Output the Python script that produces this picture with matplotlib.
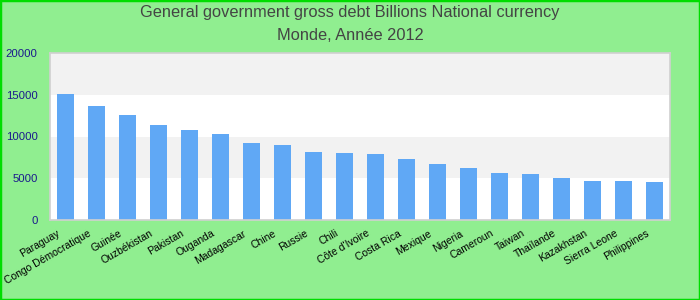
import matplotlib
matplotlib.use("Agg")
import matplotlib.pyplot as plt
import matplotlib.transforms as mtransforms
from matplotlib.patches import Rectangle

countries = ["Paraguay", "Congo Démocratique", "Guinée", "Ouzbékistan", "Pakistan",
             "Ouganda", "Madagascar", "Chine", "Russie", "Chili", "Côte d'Ivoire",
             "Costa Rica", "Mexique", "Nigeria", "Cameroun", "Taiwan", "Thaïlande",
             "Kazakhstan", "Sierra Leone", "Philippines"]
values = [15090, 13650, 12570, 11380, 10780, 10300, 9220, 8980, 8140, 8020, 7900,
          7300, 6700, 6230, 5630, 5510, 5030, 4670, 4670, 4550]
yticks = [0, 5000, 10000, 15000, 20000]

fig = plt.figure(figsize=(7, 3), dpi=100, facecolor="#90ee90")
ax = fig.add_axes([50/700, 80/300, 620/700, 167/300])
ax.set_facecolor("white")

for i in range(len(yticks) - 1):
    if i % 2 == 1:
        ax.axhspan(yticks[i], yticks[i+1], color="#f2f2f2", zorder=0, lw=0)

x = list(range(len(countries)))
ax.bar(x, values, width=0.55, color="#60a8f5", zorder=2)
ax.set_xlim(-0.5, len(countries) - 0.5)
ax.set_ylim(0, 20000)
ax.set_yticks(yticks)
ax.set_yticklabels([str(t) for t in yticks], color="#1a1a8c", fontsize=8.2,
                   family=["Liberation Sans", "DejaVu Sans"])
ax.set_xticks(x)
ax.set_xticklabels(countries, rotation=30, ha="right", rotation_mode="anchor",
                   fontsize=7.5, family=["Liberation Sans", "DejaVu Sans"], color="black")
ax.tick_params(axis="y", length=0, pad=9)
ax.tick_params(axis="x", length=0, pad=6)
offset = mtransforms.ScaledTranslation(-9/100, 0, fig.dpi_scale_trans)
for lbl in ax.get_xticklabels():
    lbl.set_transform(lbl.get_transform() + offset)
for s in ax.spines.values():
    s.set_color("#d0d0d0")
    s.set_linewidth(1.2)

fig.text(0.5, 1 - 13/300, "General government gross debt Billions National currency",
         ha="center", va="center", fontsize=11.8, color="#444444",
         family=["Liberation Sans Narrow", "Liberation Sans", "DejaVu Sans"])
fig.text(0.5, 1 - 35/300, "Monde, Année 2012",
         ha="center", va="center", fontsize=11.8, color="#444444",
         family=["Liberation Sans Narrow", "Liberation Sans", "DejaVu Sans"])

fig.patches.append(Rectangle((0, 0), 1, 1, transform=fig.transFigure, fill=False,
                             edgecolor="#00dd00", linewidth=2.5, zorder=10))
fig.savefig("out.png", dpi=100, facecolor=fig.get_facecolor())
